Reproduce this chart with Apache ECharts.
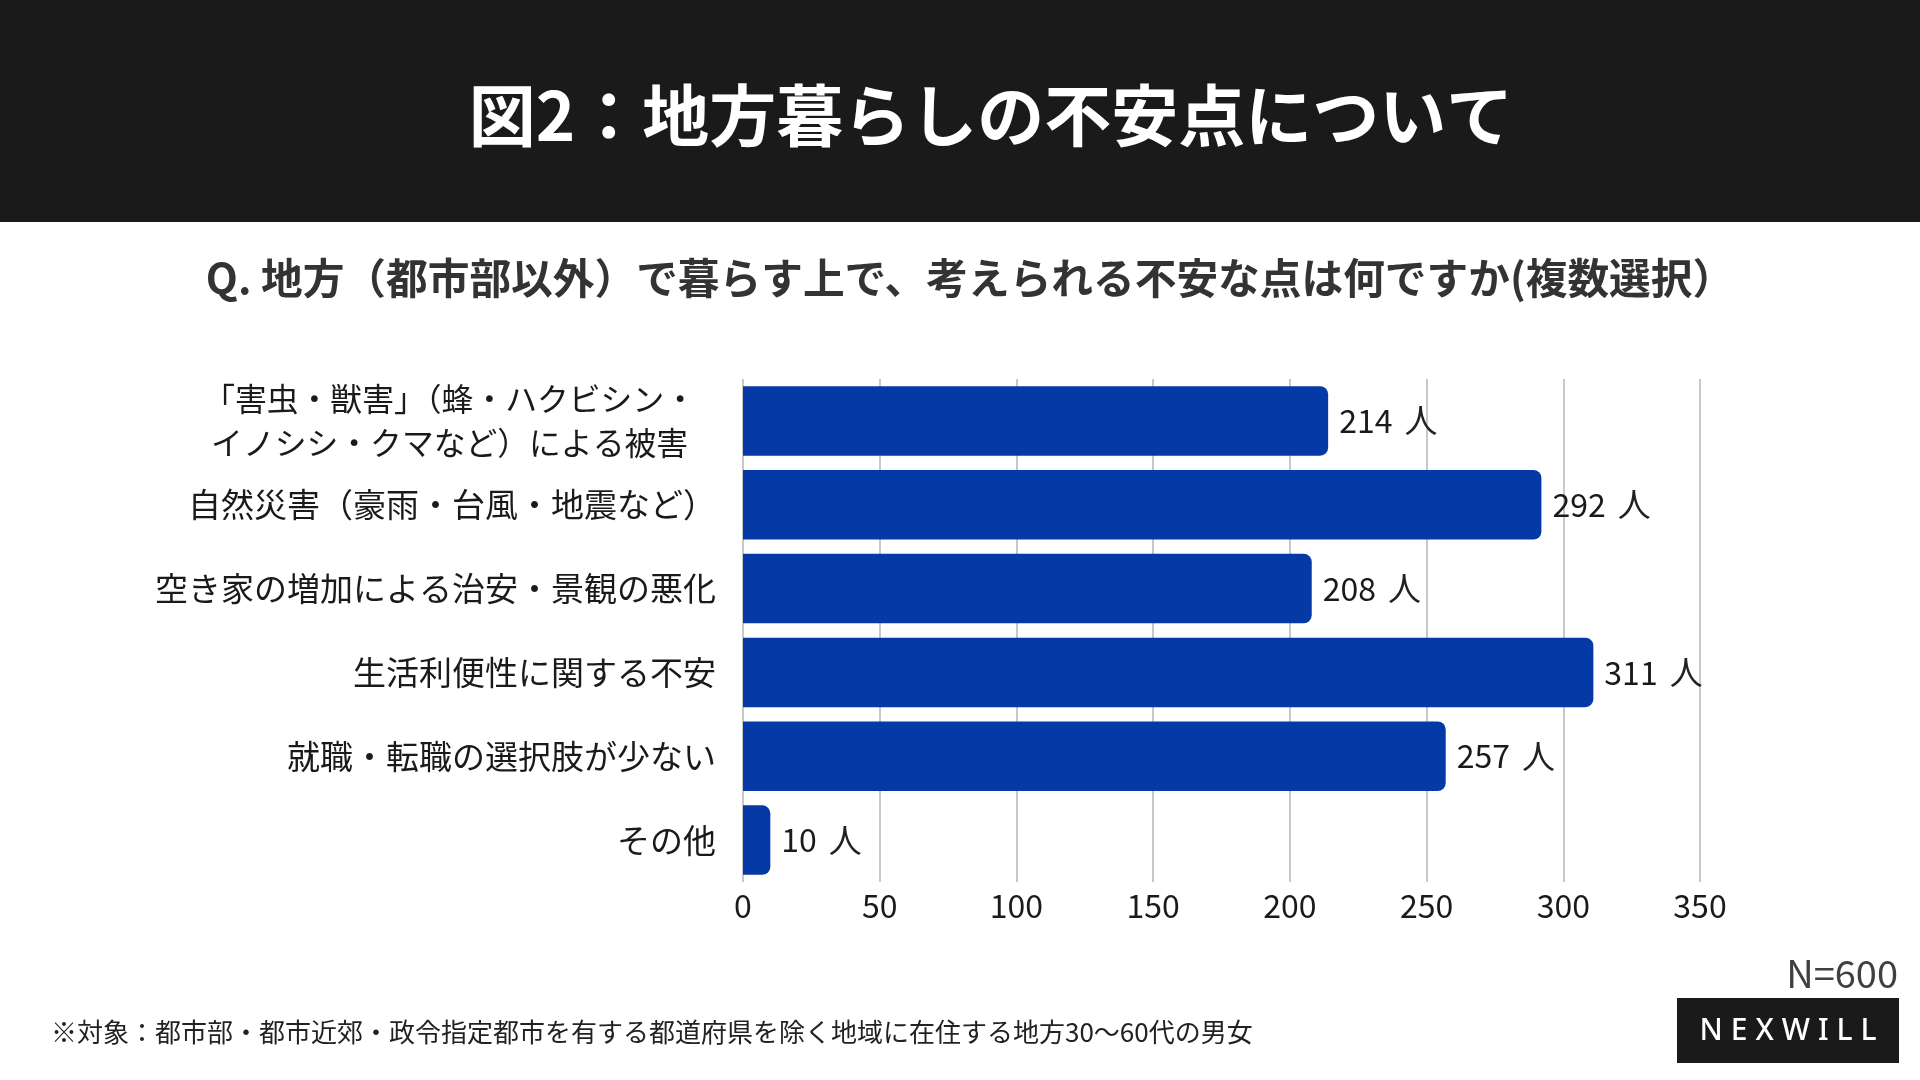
<!DOCTYPE html>
<html>
<head>
<meta charset="utf-8">
<script src="https://cdn.jsdelivr.net/npm/echarts@6/dist/echarts.min.js"></script>
<style>
html,body{margin:0;padding:0;background:#fff;}
#chart{width:1920px;height:1080px;}
</style>
</head>
<body>
<div id="chart"></div>
<script>
const FONT = '"Noto Sans CJK JP", "Noto Sans", sans-serif';
const titleText = '図2：地方暮らしの不安点について';
const subtitleText = 'Q. 地方（都市部以外）で暮らす上で、考えられる不安な点は何ですか(複数選択）';
const footnoteText = '※対象：都市部・都市近郊・政令指定都市を有する都道府県を除く地域に在住する地方30〜60代の男女';
const sampleText = 'N=600';
const brandText = 'NEXWILL';
const categories = [
  '「害虫・獣害」（蜂・ハクビシン・\nイノシシ・クマなど）による被害',
  '自然災害（豪雨・台風・地震など）',
  '空き家の増加による治安・景観の悪化',
  '生活利便性に関する不安',
  '就職・転職の選択肢が少ない',
  'その他'
];
const values = [214, 292, 208, 311, 257, 10];
const unit = '人';
const axisMin = 0, axisMax = 350, axisStep = 50;

const chart = echarts.init(document.getElementById('chart'));
chart.setOption({
  backgroundColor: '#ffffff',
  textStyle: { fontFamily: FONT },
  grid: { left: 743, right: 220, top: 379, bottom: 198, containLabel: false },
  xAxis: {
    type: 'value', min: axisMin, max: axisMax, interval: axisStep,
    axisLine: { show: false }, axisTick: { show: false },
    splitLine: { show: true, lineStyle: { color: '#c8c8c8', width: 2 } },
    axisLabel: { fontSize: 32, color: '#1a1a1a', margin: 8, fontFamily: FONT }
  },
  yAxis: {
    type: 'category', data: categories, inverse: true,
    axisLine: { show: false }, axisTick: { show: false },
    axisLabel: {
      fontSize: 33, color: '#1a1a1a', margin: 27, fontFamily: FONT, lineHeight: 44,
      formatter: function (v) {
        if (v.indexOf('\n') >= 0) {
          return v.split('\n').map(function (l) { return '{c|' + l + '}'; }).join('\n');
        }
        return v;
      },
      rich: { c: { align: 'center', fontSize: 31.8, lineHeight: 44, color: '#1a1a1a', fontFamily: FONT, padding: [0, 20, 0, 0] } }
    }
  },
  series: [{
    type: 'bar', data: values, barCategoryGap: '17%',
    itemStyle: { color: '#0439A6', borderRadius: [0, 8, 8, 0] },
    label: {
      show: true, position: 'right', distance: 11,
      formatter: '{n|{c}}{u|' + unit + '}',
      rich: {
        n: { fontSize: 32, color: '#1a1a1a', fontFamily: FONT },
        u: { fontSize: 33, color: '#222222', fontFamily: FONT, padding: [0, 0, 0, 12] }
      }
    },
    silent: true
  }],
  graphic: [
    { type: 'rect', left: 0, top: 0, shape: { width: 1920, height: 222 }, style: { fill: '#1a1a1a' }, z: 0 },
    { type: 'text', x: 991, y: 116, style: { text: titleText, fill: '#ffffff', font: 'bold 67px ' + FONT, align: 'center', verticalAlign: 'middle' } },
    { type: 'text', x: 970, y: 278, style: { text: subtitleText, fill: '#333333', font: 'bold 41.7px ' + FONT, align: 'center', verticalAlign: 'middle' } },
    { type: 'text', x: 51, y: 1032, style: { text: footnoteText, fill: '#222222', font: '26px ' + FONT, align: 'left', verticalAlign: 'middle' } },
    { type: 'text', x: 1898, y: 974, style: { text: sampleText, fill: '#404040', font: '38px ' + FONT, align: 'right', verticalAlign: 'middle' } },
    { type: 'rect', shape: { x: 1677, y: 998, width: 222, height: 65 }, style: { fill: '#1a1a1a' } },
    { type: 'text', x: 1788, y: 1031, style: {
        text: brandText.split('').map(function (ch) { return '{a|' + ch + '}'; }).join(''),
        rich: { a: { fill: '#ffffff', fontSize: 30, fontWeight: 500, fontFamily: '"Noto Sans", sans-serif', padding: [0, 4, 0, 4] } },
        align: 'center', verticalAlign: 'middle' } }
  ]
});
</script>
</body>
</html>
